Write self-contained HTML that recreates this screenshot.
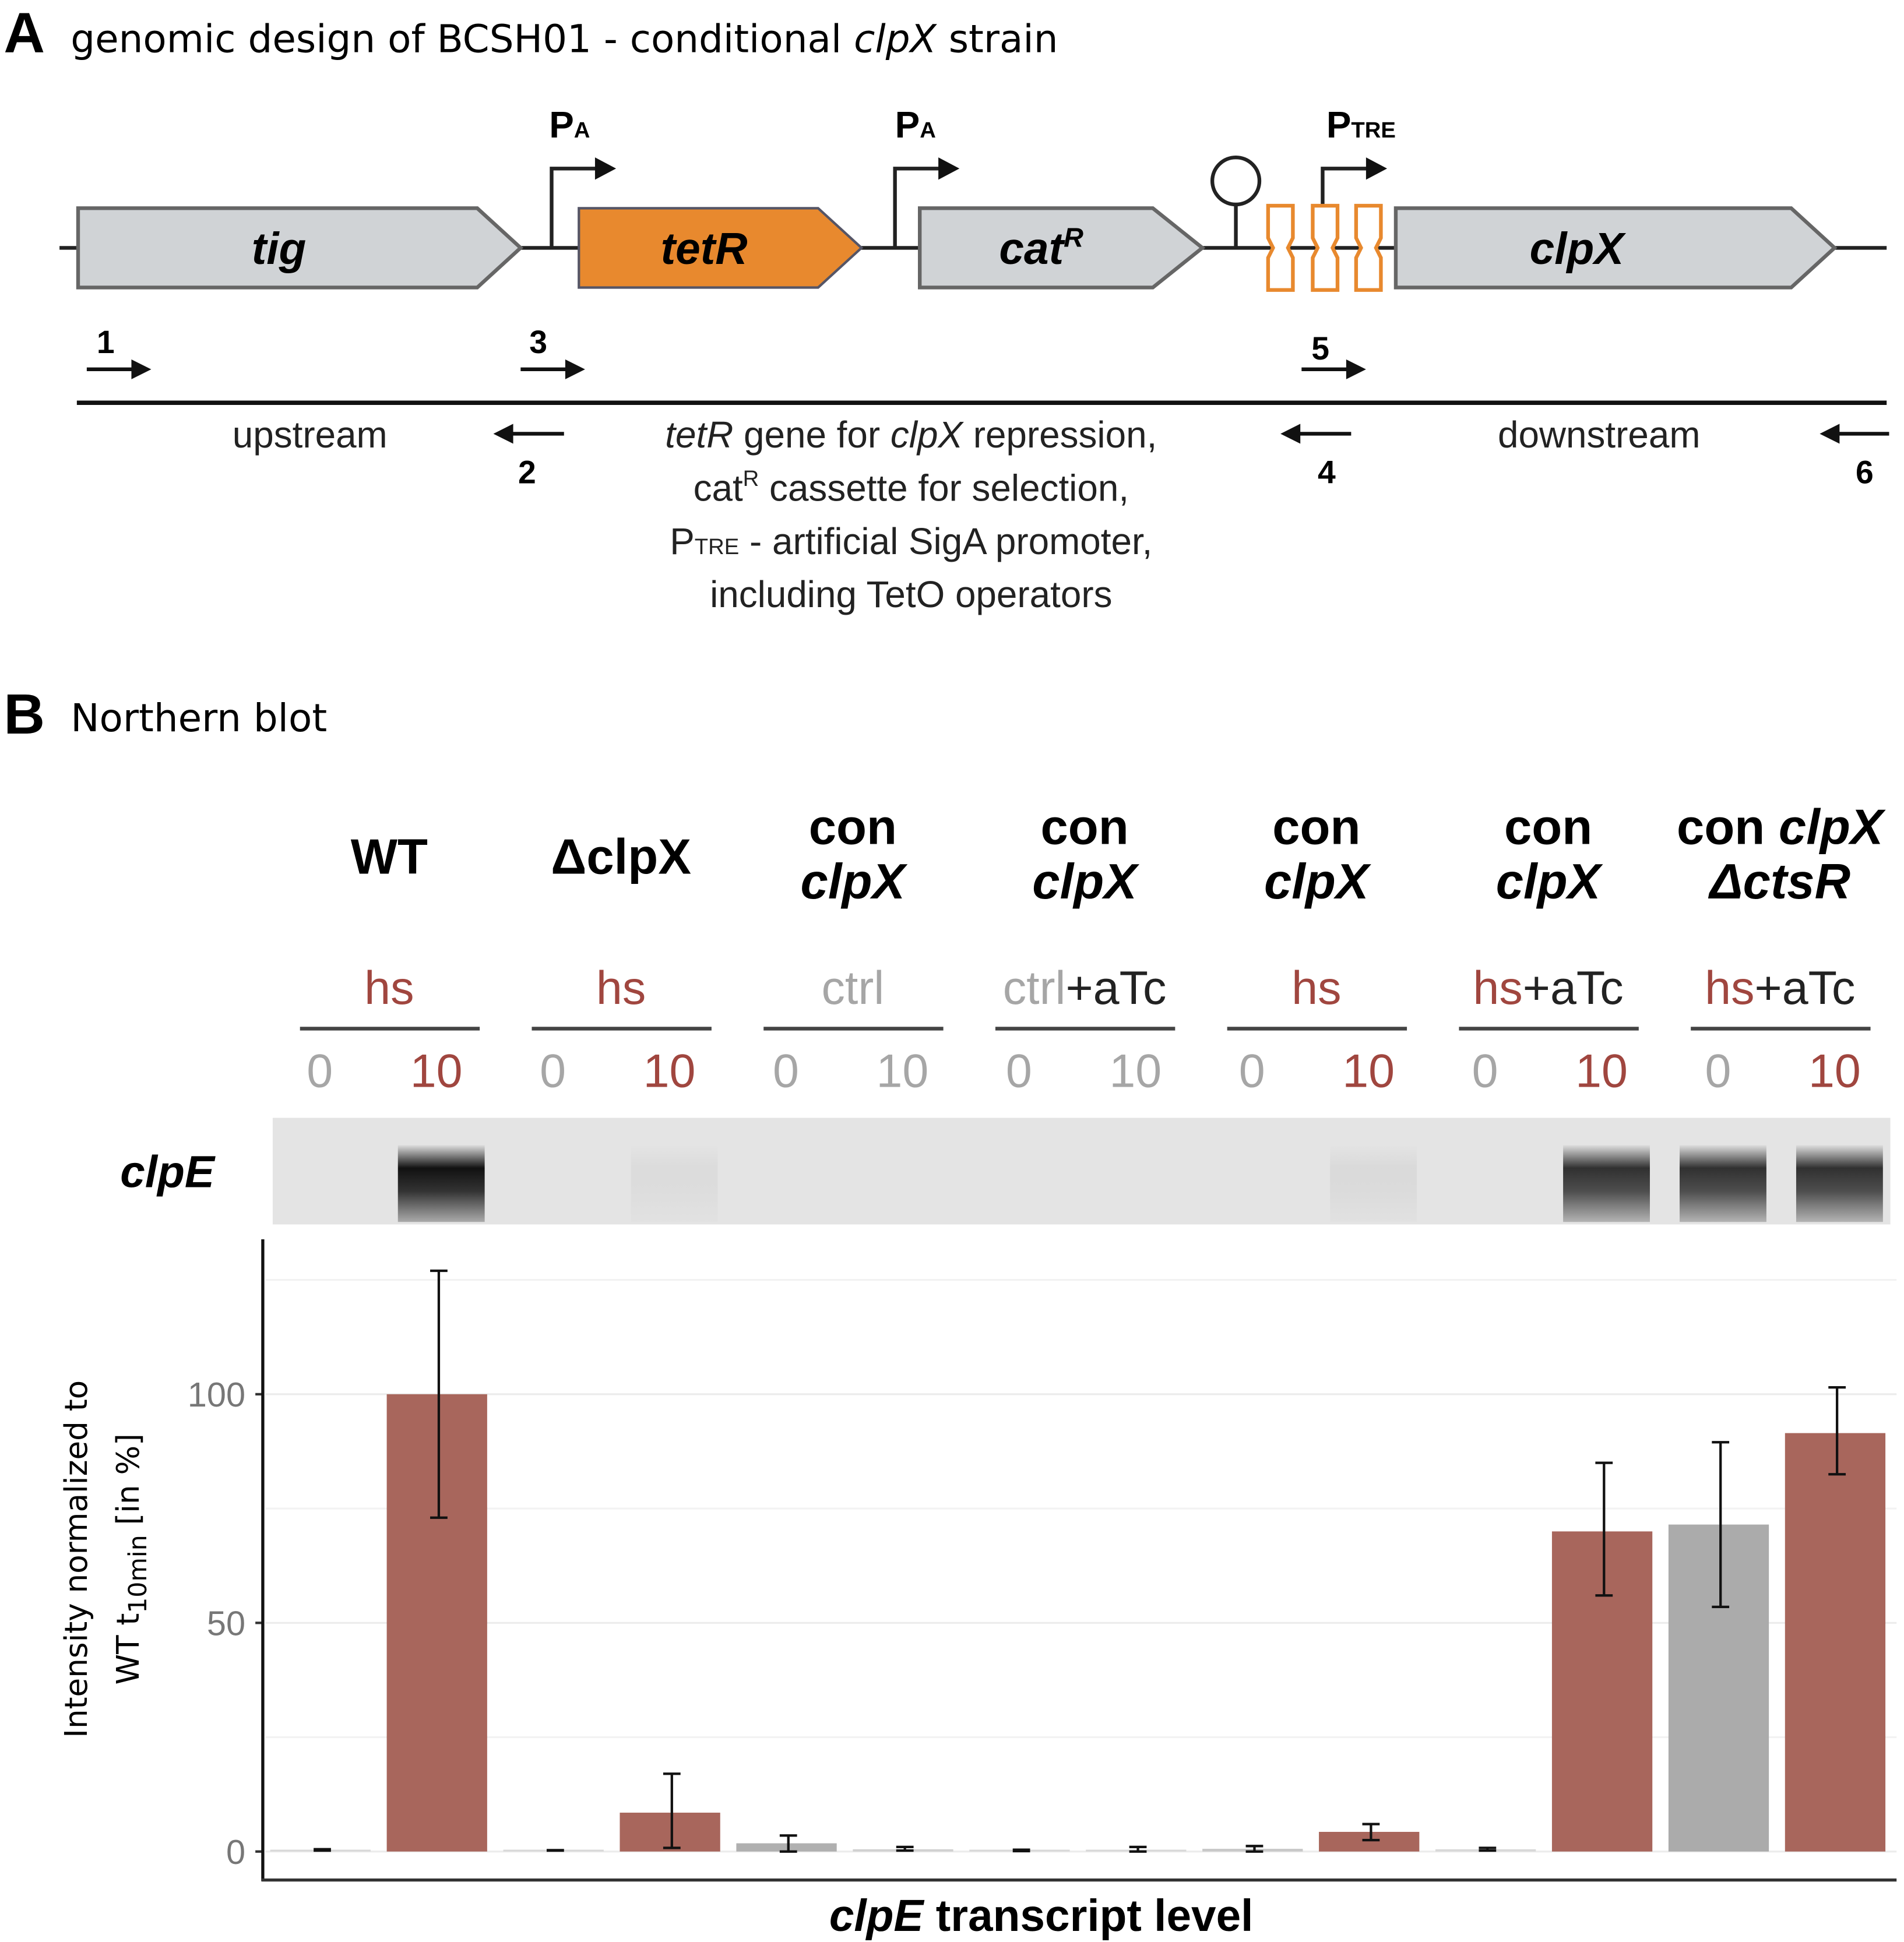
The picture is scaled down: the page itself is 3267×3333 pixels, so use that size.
<!DOCTYPE html>
<html><head><meta charset="utf-8"><style>
html,body{margin:0;padding:0;background:#fff;}
svg{display:block;}
text{font-family:"Liberation Sans","DejaVu Sans",sans-serif;}
.dv{font-family:"DejaVu Sans","Liberation Sans",sans-serif;}
</style></head><body>
<svg id="fig" width="3267" height="3333" viewBox="0 0 1536 1567" preserveAspectRatio="none" xmlns="http://www.w3.org/2000/svg">
<defs>
<marker id="ah" markerWidth="6" markerHeight="6" refX="3" refY="3" orient="auto" markerUnits="strokeWidth"><path d="M0,0 L6,3 L0,6 Z" fill="#111"/></marker>
<linearGradient id="band" x1="0" y1="0" x2="0" y2="1"><stop offset="0" stop-color="#ddd"/><stop offset="0.3" stop-color="#111"/><stop offset="0.6" stop-color="#333"/><stop offset="1" stop-color="#aaa"/></linearGradient>
</defs>
<!-- Panel A -->
<g>
<text x="3" y="42" font-size="46" font-weight="bold">A</text>
<text x="57" y="42" font-size="31" class="dv">genomic design of BCSH01 - conditional <tspan font-style="italic">clpX</tspan> strain</text>
<line x1="48" y1="200" x2="1522" y2="200" stroke="#222" stroke-width="3"/>
<polygon points="63,168 385,168 420,200 385,232 63,232" fill="#d0d3d6" stroke="#666" stroke-width="3"/>
<text x="225" y="213" font-size="36" font-weight="bold" font-style="italic" text-anchor="middle">tig</text>
<polygon points="467,168 660,168 695,200 660,232 467,232" fill="#e8892e" stroke="#556" stroke-width="2"/>
<text x="568" y="213" font-size="36" font-weight="bold" font-style="italic" text-anchor="middle">tetR</text>
<polygon points="742,168 930,168 970,200 930,232 742,232" fill="#d0d3d6" stroke="#666" stroke-width="3"/>
<text x="840" y="213" font-size="36" font-weight="bold" font-style="italic" text-anchor="middle">cat<tspan font-size="22" dy="-14">R</tspan></text>
<polygon points="1126,168 1445,168 1480,200 1445,232 1126,232" fill="#d0d3d6" stroke="#666" stroke-width="3"/>
<text x="1272" y="213" font-size="36" font-weight="bold" font-style="italic" text-anchor="middle">clpX</text>
<g fill="none" stroke="#222" stroke-width="3">
<path d="M445,200 V136 H482"/><path d="M722,200 V136 H759"/><path d="M1067,165 V136 H1104"/>
<line x1="997" y1="200" x2="997" y2="165"/><circle cx="997" cy="146" r="19"/>
</g>
<g fill="#111"><path d="M480,127 L497,136 L480,145 Z"/><path d="M757,127 L774,136 L757,145 Z"/><path d="M1102,127 L1119,136 L1102,145 Z"/></g>
<text x="443" y="111" font-size="30" font-weight="bold">P<tspan font-size="18">A</tspan></text>
<text x="722" y="111" font-size="30" font-weight="bold">P<tspan font-size="18">A</tspan></text>
<text x="1070" y="111" font-size="30" font-weight="bold">P<tspan font-size="18">TRE</tspan></text>
<g fill="#fff" stroke="#e8892e" stroke-width="3">
<path d="M1023,166 H1043 V192 L1039,200 L1043,208 V234 H1023 V208 L1027,200 L1023,192 Z"/>
<path d="M1059,166 H1079 V192 L1075,200 L1079,208 V234 H1059 V208 L1063,200 L1059,192 Z"/>
<path d="M1094,166 H1114 V192 L1110,200 L1114,208 V234 H1094 V208 L1098,200 L1094,192 Z"/>
</g>
<g stroke="#111" stroke-width="3">
<line x1="70" y1="298" x2="108" y2="298"/><line x1="420" y1="298" x2="458" y2="298"/><line x1="1050" y1="298" x2="1088" y2="298"/>
<line x1="455" y1="350" x2="412" y2="350"/><line x1="1090" y1="350" x2="1047" y2="350"/><line x1="1524" y1="350" x2="1482" y2="350"/>
</g>
<g fill="#111"><path d="M106,290 L122,298 L106,306 Z"/><path d="M456,290 L472,298 L456,306 Z"/><path d="M1086,290 L1102,298 L1086,306 Z"/>
<path d="M414,342 L398,350 L414,358 Z"/><path d="M1049,342 L1033,350 L1049,358 Z"/><path d="M1484,342 L1468,350 L1484,358 Z"/></g>
<g font-size="26" font-weight="bold">
<text x="78" y="285">1</text><text x="427" y="285">3</text><text x="1058" y="290">5</text>
<text x="418" y="390">2</text><text x="1063" y="390">4</text><text x="1497" y="390">6</text>
</g>
<line x1="62" y1="325" x2="1522" y2="325" stroke="#111" stroke-width="3.5"/>
<g font-size="30" text-anchor="middle" fill="#222">
<text x="250" y="361">upstream</text>
<text x="1290" y="361">downstream</text>
<text x="735" y="361"><tspan font-style="italic">tetR</tspan> gene for <tspan font-style="italic">clpX</tspan> repression,</text>
<text x="735" y="404">cat<tspan font-size="18" dy="-12">R</tspan><tspan dy="12"> cassette for selection,</tspan></text>
<text x="735" y="447">P<tspan font-size="18">TRE</tspan> - artificial SigA promoter,</text>
<text x="735" y="490">including TetO operators</text>
</g>
</g>
<!-- Panel B -->
<g>
<text x="3" y="592" font-size="46" font-weight="bold">B</text>
<text x="57" y="590" font-size="31" class="dv">Northern blot</text>
<g id="headers" font-size="40" font-weight="bold" text-anchor="middle"></g>
<g id="conds" font-size="38" text-anchor="middle"></g>
<g id="times" font-size="38" text-anchor="middle"></g>
<rect x="220" y="902" width="1305" height="86" fill="#e4e4e4"/>
<g id="bands"></g>
<text x="97" y="958" font-size="36" font-weight="bold" font-style="italic">clpE</text>
<g id="chart"></g>
</g>
</svg>
<script>
const strains = ["WT","ΔclpX","con|clpX","con|clpX","con|clpX","con|clpX","con clpX|ΔctsR"];
const conditions = [["hs"],["hs"],["ctrl"],["ctrl","+aTc"],["hs"],["hs","+aTc"],["hs","+aTc"]];
const timepoints = ["0","10"];
const bandIntensity = [0,1,0,0.04,0,0,0,0,0,0.05,0,0.85,0.85,0.85];
const values = [0.3,100,0.2,8.5,1.8,0.5,0.2,0.3,0.6,4.3,0.5,70,71.5,91.5];
const errLow = [0.2,73,0.2,0.8,0,0.2,0.1,0,0,2.5,0.2,56,53.5,82.5];
const errHigh = [0.5,127,0.3,17,3.5,1,0.4,1,1.2,6,0.8,85,89.5,101.5];
const barColors = ["#d8d8d8","#a8665c","#d8d8d8","#a8665c","#b0b0b0","#d0d0d0","#d8d8d8","#d8d8d8","#c8c8c8","#a8665c","#d8d8d8","#a8665c","#ababab","#a8665c"];
const yTicks = [0,50,100];
const yGrid = [25,75,125];

const NS = "http://www.w3.org/2000/svg";
function mk(tag, attrs, parent, txt){const e=document.createElementNS(NS,tag);for(const k in attrs)e.setAttribute(k,attrs[k]);if(txt!==undefined)e.textContent=txt;parent.appendChild(e);return e;}
const RED="#a0463f", GRAY="#a6a6a6";
const groupX = i => 242 + i*187;
const laneX = j => 258 + j*94;
const yS = v => 1494 - v*3.69;

const H=document.getElementById('headers'), C=document.getElementById('conds'), T=document.getElementById('times');
strains.forEach((s,i)=>{
  const cx=groupX(i)+72; const parts=s.split('|');
  const t=mk('text',{x:cx,y:parts.length>1?681:705},H);
  
  
  if(parts.length===1){t.textContent=parts[0];}
  else{
    const a=mk('tspan',{x:cx},t);
    if(parts[0].includes('clpX')){mk('tspan',{},a,'con ');mk('tspan',{'font-style':'italic'},a,'clpX');}else a.textContent=parts[0];
    mk('tspan',{x:cx,dy:44,'font-style':'italic'},t,parts[1]);
  }
  const c=mk('text',{x:cx,y:810},C);
  
  
  conditions[i].forEach(p=>mk('tspan',{fill:p==='hs'?RED:p==='ctrl'?GRAY:'#222'},c,p));
  const ln=mk('line',{x1:groupX(i),x2:groupX(i)+145,y1:830,y2:830,stroke:'#444','stroke-width':3},C);
  
  
  timepoints.forEach((tp,k)=>{
    const red = k===1 && conditions[i][0]==='hs';
    const tt=mk('text',{x:laneX(i*2+k),y:877,fill:red?RED:GRAY},T,tp);
    
    
  });
});
const B=document.getElementById('bands');
bandIntensity.forEach((v,j)=>{
  if(v<=0)return;
  const r=mk('rect',{x:laneX(j)+3-34,y:924,width:70,height:62,fill:'url(#band)',opacity:v},B);
  
  
});
const G=document.getElementById('chart');
yGrid.forEach(g=>mk('line',{x1:214,x2:1530,y1:yS(g),y2:yS(g),stroke:'#f2f2f2','stroke-width':1.5},G));
yTicks.forEach(g=>{
  mk('line',{x1:214,x2:1530,y1:yS(g),y2:yS(g),stroke:'#ececec','stroke-width':1.5},G);
  mk('line',{x1:206,x2:212,y1:yS(g),y2:yS(g),stroke:'#333','stroke-width':2},G);
  const t=mk('text',{x:198,y:yS(g)+10,'text-anchor':'end','font-size':28,fill:'#777'},G,String(g));
  
  
});
values.forEach((v,j)=>{
  const h=Math.max(yS(0)-yS(v),1.5);
  const r=mk('rect',{x:laneX(j)-40,y:yS(0)-h,width:81,height:h,fill:barColors[j]},G);
  
  
  const cx=laneX(j)+2;
  const e=mk('path',{d:`M${cx},${yS(errLow[j])}V${yS(errHigh[j])}M${cx-7},${yS(errLow[j])}H${cx+7}M${cx-7},${yS(errHigh[j])}H${cx+7}`,stroke:'#111','stroke-width':2,fill:'none'},G);
  
  
});
const ya=mk('line',{x1:212,x2:212,y1:1000,y2:1518,stroke:'#111','stroke-width':2.5},G);


const xa=mk('line',{x1:211,x2:1530,y1:1517,y2:1517,stroke:'#333','stroke-width':2.5},G);


const yt=mk('text',{transform:'translate(70,1258) rotate(-90)','text-anchor':'middle','font-size':25,class:'dv'},G);


mk('tspan',{x:0,y:0},yt,'Intensity normalized to');
const t2=mk('tspan',{x:0,y:42},yt,'WT t');
mk('tspan',{'font-size':20,dy:6},t2,'10min');
mk('tspan',{dy:-6},t2,' [in %]');
const xt=mk('text',{x:840,y:1558,'text-anchor':'middle','font-size':36,'font-weight':'bold'},G);


mk('tspan',{'font-style':'italic'},xt,'clpE');
mk('tspan',{},xt,' transcript level');
</script>
</body></html>
